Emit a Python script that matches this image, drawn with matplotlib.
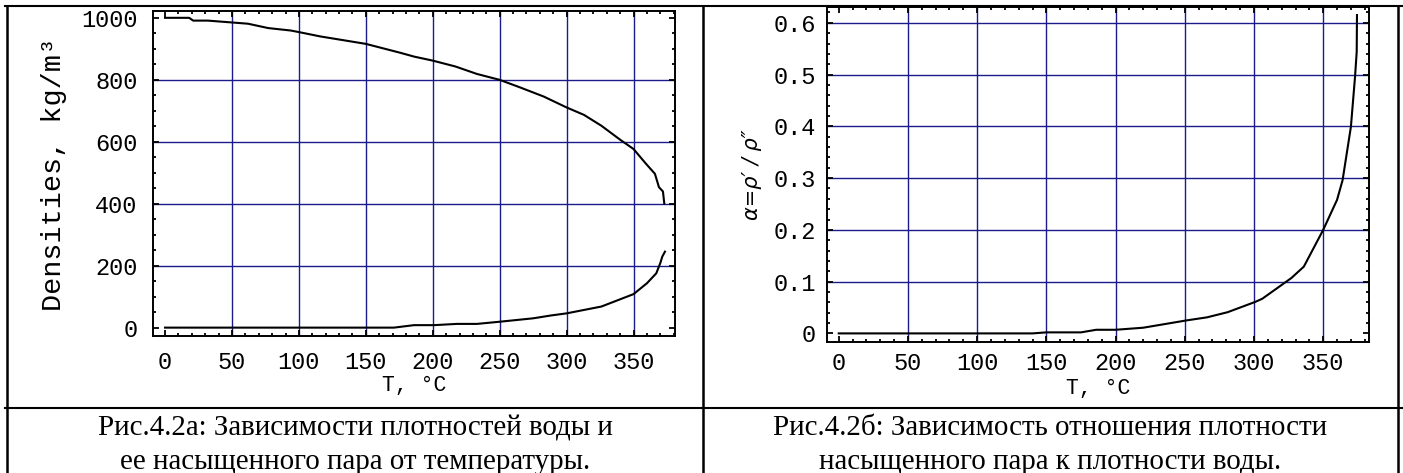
import matplotlib
matplotlib.use("Agg")
import matplotlib.pyplot as plt
from matplotlib.ticker import MultipleLocator
from matplotlib.lines import Line2D

plt.rcParams['font.family'] = ['Liberation Mono', 'DejaVu Sans']

# saturated water: liquid density rho' and vapour density rho'' vs temperature
T_liq = [0, 18, 21, 32, 50, 62, 77, 94, 100, 116, 150, 176, 186, 200, 217,
         233, 250, 265, 283, 300, 313, 326, 340, 350, 359, 366, 369, 372, 373]
rho_liq = [999, 999, 990, 990, 984, 980, 966, 958, 953, 939, 915, 886, 874,
           861, 842, 818, 799, 775, 745, 710, 686, 651, 606, 576, 530, 496,
           453, 439, 400]

T_vap = [0, 171, 186, 201, 218, 233, 250, 275, 288, 300, 326, 350, 360, 367,
         370, 371.5, 373.5]
rho_vap = [0, 0, 8, 8, 12, 12, 19, 30, 39, 46, 68, 108, 143, 175, 208, 229, 245]

# ratio of vapour to liquid density
T_alpha = [0, 140, 150, 175, 186, 200, 220, 251, 266, 281, 301, 306, 327, 336,
           350, 360, 364, 370, 373, 374.2, 374.4]
alpha = [0, 0, 0.002, 0.002, 0.007, 0.007, 0.011, 0.025, 0.031, 0.041, 0.061,
         0.067, 0.107, 0.129, 0.2, 0.258, 0.296, 0.399, 0.496, 0.544, 0.615]

caption_a = ["Рис.4.2а: Зависимости плотностей воды и",
             "ее насыщенного пара от температуры."]
caption_b = ["Рис.4.2б: Зависимость отношения плотности",
             "насыщенного пара к плотности воды."]

W, H = 1403, 473
fig = plt.figure(figsize=(W / 100, H / 100), dpi=100)


def axes_px(x0, y0, x1, y1):
    return fig.add_axes([x0 / W, 1 - y1 / H, (x1 - x0) / W, (y1 - y0) / H])


grid_col = '#1a1a8a'
tick_size = 17


def style(ax, xmaj, xmin, ymaj, ymin, xpad, ypad):
    ax.xaxis.set_major_locator(MultipleLocator(xmaj))
    ax.xaxis.set_minor_locator(MultipleLocator(xmin))
    ax.yaxis.set_major_locator(MultipleLocator(ymaj))
    ax.yaxis.set_minor_locator(MultipleLocator(ymin))
    ax.tick_params(which='both', direction='in', top=True, right=True,
                   width=1.3, color='black')
    ax.tick_params(which='major', length=4.5, labelsize=tick_size)
    ax.tick_params(which='minor', length=2.5)
    ax.tick_params(axis='x', which='major', pad=xpad)
    ax.tick_params(axis='y', which='major', pad=ypad)
    for s in ax.spines.values():
        s.set_linewidth(1.4)
    ax.set_axisbelow(True)


# --- left: densities ---
ax1 = axes_px(153, 11, 675, 336)
for x in range(50, 351, 50):
    ax1.axvline(x, color=grid_col, lw=1.0, zorder=0)
for y in range(200, 801, 200):
    ax1.axhline(y, color=grid_col, lw=1.0, zorder=0)
ax1.plot(T_liq, rho_liq, color='black', lw=1.5)
ax1.plot(T_vap, rho_vap, color='black', lw=1.5)
ax1.set_xlim(-9, 381)
ax1.set_ylim(-27, 1021)
style(ax1, 50, 10, 200, 50, 10.5, 11)
ax1.set_xlabel('T, °C', fontsize=15.5, labelpad=1)
ax1.set_ylabel('Densities, kg/m³', fontsize=20.5, labelpad=10)

# --- right: density ratio ---
ax2 = axes_px(826.7, 7.3, 1369.3, 342.2)
for x in range(50, 351, 50):
    ax2.axvline(x, color=grid_col, lw=1.0, zorder=0)
for k in range(1, 7):
    ax2.axhline(k / 10, color=grid_col, lw=1.0, zorder=0)
ax2.plot(T_alpha, alpha, color='black', lw=1.5)
ax2.set_xlim(-8.7, 383.3)
ax2.set_ylim(-0.017, 0.63)
style(ax2, 50, 10, 0.1, 0.02, 7, 8)
ax2.yaxis.set_major_formatter(lambda v, p: '0' if abs(v) < 1e-9 else f'{v:.1f}')
ax2.set_xlabel('T, °C', fontsize=15.5, labelpad=2)
ax2.set_ylabel('α=ρ′ / ρ″', fontsize=15, style='italic',
               family=['DejaVu Sans'], labelpad=8)

# --- table frame around the figures ---
lw_frame = 1.8
for x in (7.3, 703, 1397.7):
    fig.add_artist(Line2D([x / W, x / W], [0, 1 - 5.7 / H], color='black',
                          lw=lw_frame, transform=fig.transFigure))
for y in (5.7, 408):
    fig.add_artist(Line2D([5 / W, 1], [1 - y / H, 1 - y / H], color='black',
                          lw=1.5, transform=fig.transFigure))

# --- captions ---
cap_font = dict(family=['Liberation Serif'], fontsize=20.9, ha='center',
                va='baseline')
for cx, lines in ((355, caption_a), (1050.5, caption_b)):
    for line, base in zip(lines, (435, 469)):
        fig.text(cx / W, 1 - base / H, line, **cap_font)

fig.savefig('out.png', dpi=100)
